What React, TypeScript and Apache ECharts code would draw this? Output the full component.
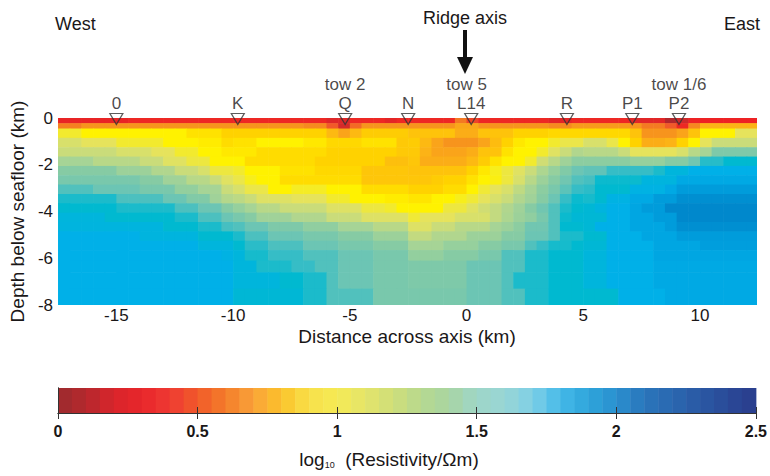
import React, { useEffect, useRef } from "react";
import * as echarts from "echarts";

// ---- Model grid (km) ----
const colStartKm = -17.5;
const colWidthKm = 0.5;
const depthEdges = [0, 0.22, 0.45, 0.85, 1.25, 1.65, 2.05, 2.45, 2.85, 3.25, 3.65, 4.05, 4.45, 4.85, 5.25, 5.65, 6.1, 6.6, 7.3, 8.0];

// ---- log10 resistivity, one array per depth layer, 60 columns west -> east ----
const r00 = [0.28,0.28,0.28,0.28,0.28,0.28,0.32,0.32,0.32,0.32,0.32,0.32,0.32,0.32,0.32,0.32,0.32,0.32,0.32,0.32,0.32,0.32,0.32,0.24,0.24,0.32,0.32,0.32,0.26,0.32,0.32,0.32,0.32,0.32,0.6,0.42,0.32,0.32,0.32,0.32,0.32,0.32,0.26,0.26,0.32,0.32,0.32,0.32,0.32,0.25,0.25,0.25,0.08,0.18,0.3,0.3,0.3,0.3,0.3,0.3];
const r01 = [0.62,0.62,0.7,0.7,0.7,0.7,0.7,0.7,0.7,0.7,0.7,0.7,0.7,0.7,0.7,0.7,0.7,0.7,0.7,0.7,0.7,0.66,0.66,0.5,0.2,0.55,0.7,0.7,0.7,0.7,0.7,0.7,0.7,0.7,0.76,0.76,0.7,0.7,0.7,0.7,0.7,0.7,0.66,0.66,0.72,0.72,0.72,0.72,0.72,0.7,0.6,0.6,0.5,0.32,0.65,0.8,0.8,0.8,0.8,0.8];
const r02 = [1.05,1.05,1.0,1.0,1.0,1.0,1.0,1.0,1.0,1.0,1.0,0.95,0.95,0.95,0.9,0.9,0.9,0.9,0.9,0.9,0.9,0.9,0.9,0.82,0.75,0.82,0.88,0.88,0.88,0.88,0.85,0.85,0.85,0.85,0.78,0.78,0.85,0.85,0.85,0.9,0.9,0.9,0.92,0.92,0.92,0.92,0.92,0.92,0.92,0.85,0.7,0.7,0.7,0.75,0.85,1.0,1.0,1.0,1.1,1.1];
const r03 = [1.15,1.15,1.1,1.1,1.1,1.05,1.05,1.05,1.05,1.0,1.0,1.0,0.98,0.98,0.93,0.95,0.95,1.0,1.0,1.0,1.0,0.97,0.97,0.92,0.92,0.92,0.95,0.95,0.95,0.87,0.88,0.82,0.75,0.7,0.7,0.7,0.75,0.83,0.9,0.97,1.0,1.0,1.05,1.08,1.08,1.15,1.15,1.08,1.0,0.9,0.78,0.78,0.8,0.9,1.0,1.1,1.2,1.2,1.2,1.2];
const r04 = [1.2,1.2,1.2,1.2,1.2,1.15,1.15,1.15,1.1,1.1,1.05,1.05,1.0,1.0,0.97,0.97,0.97,0.93,0.93,0.93,0.93,0.93,0.93,0.9,0.9,0.9,0.9,0.9,0.9,0.87,0.87,0.8,0.75,0.75,0.75,0.78,0.85,0.85,0.95,1.0,1.0,1.05,1.12,1.2,1.27,1.25,1.25,1.25,1.2,1.1,1.1,1.1,1.1,1.15,1.25,1.3,1.43,1.43,1.43,1.43];
const r05 = [1.3,1.3,1.3,1.25,1.25,1.25,1.25,1.2,1.2,1.12,1.12,1.07,1.07,1.0,1.0,1.0,0.93,0.93,0.93,0.93,0.93,0.93,0.9,0.9,0.9,0.9,0.9,0.9,0.84,0.84,0.86,0.78,0.78,0.78,0.78,0.82,0.88,0.95,1.0,1.0,1.05,1.18,1.25,1.32,1.38,1.38,1.38,1.38,1.38,1.35,1.35,1.35,1.4,1.4,1.48,1.63,1.63,1.7,1.7,1.7];
const r06 = [1.4,1.4,1.4,1.4,1.4,1.33,1.33,1.33,1.27,1.27,1.2,1.2,1.15,1.07,1.07,1.05,1.0,1.0,1.0,0.95,0.95,0.95,0.92,0.92,0.92,0.92,0.86,0.86,0.86,0.86,0.85,0.85,0.85,0.85,0.85,0.9,0.97,1.03,1.07,1.12,1.2,1.28,1.35,1.42,1.5,1.52,1.52,1.6,1.6,1.6,1.6,1.65,1.75,1.75,1.8,1.8,1.8,1.8,1.8,1.8];
const r07 = [1.45,1.45,1.45,1.45,1.45,1.45,1.45,1.4,1.4,1.32,1.32,1.25,1.25,1.2,1.12,1.08,1.03,1.0,1.0,0.93,0.93,0.93,0.93,0.93,0.93,0.93,0.86,0.86,0.86,0.86,0.86,0.86,0.88,0.9,0.9,0.95,1.0,1.02,1.07,1.15,1.25,1.33,1.4,1.48,1.55,1.57,1.68,1.68,1.68,1.68,1.76,1.76,1.76,1.85,1.85,1.85,1.85,1.85,1.85,1.85];
const r08 = [1.55,1.55,1.55,1.5,1.5,1.5,1.5,1.45,1.45,1.45,1.36,1.36,1.3,1.3,1.2,1.15,1.08,1.08,1.0,1.0,1.04,1.04,1.04,1.0,1.0,1.0,0.93,0.93,0.93,0.93,0.9,0.9,0.9,0.93,0.93,1.0,1.06,1.1,1.15,1.23,1.3,1.38,1.45,1.53,1.6,1.62,1.7,1.7,1.7,1.78,1.78,1.78,1.85,1.95,1.95,1.95,1.95,1.95,1.95,1.95];
const r09 = [1.65,1.65,1.65,1.65,1.65,1.56,1.56,1.56,1.56,1.5,1.5,1.42,1.42,1.32,1.26,1.24,1.2,1.13,1.13,1.13,1.1,1.1,1.1,1.05,1.05,1.0,1.0,1.0,0.98,0.98,0.96,0.96,1.0,1.0,1.03,1.06,1.1,1.15,1.2,1.27,1.32,1.4,1.5,1.6,1.68,1.66,1.7,1.78,1.78,1.85,1.85,1.95,1.95,2.05,2.05,2.05,2.05,2.05,2.05,2.05];
const r10 = [1.7,1.7,1.7,1.7,1.7,1.65,1.65,1.65,1.65,1.65,1.56,1.56,1.5,1.5,1.4,1.35,1.3,1.25,1.25,1.2,1.2,1.2,1.2,1.13,1.13,1.13,1.07,1.07,1.05,1.0,1.0,1.0,1.0,1.07,1.07,1.12,1.18,1.22,1.27,1.32,1.4,1.48,1.55,1.65,1.7,1.72,1.76,1.8,1.8,1.87,1.95,1.95,2.1,2.1,2.1,2.1,2.1,2.1,2.1,2.1];
const r11 = [1.75,1.75,1.75,1.75,1.7,1.7,1.7,1.7,1.7,1.7,1.65,1.65,1.56,1.56,1.5,1.45,1.4,1.32,1.32,1.32,1.27,1.27,1.27,1.2,1.2,1.2,1.13,1.13,1.13,1.13,1.06,1.1,1.1,1.1,1.15,1.15,1.15,1.22,1.28,1.33,1.37,1.45,1.55,1.68,1.72,1.72,1.72,1.8,1.8,1.87,1.87,1.95,1.95,2.1,2.1,2.1,2.1,2.1,2.1,2.1];
const r12 = [1.76,1.76,1.76,1.76,1.76,1.76,1.76,1.76,1.76,1.7,1.7,1.7,1.65,1.65,1.57,1.55,1.5,1.5,1.43,1.43,1.43,1.37,1.37,1.37,1.3,1.3,1.3,1.25,1.25,1.25,1.13,1.13,1.2,1.2,1.25,1.25,1.25,1.3,1.33,1.38,1.48,1.48,1.55,1.7,1.7,1.72,1.8,1.8,1.8,1.87,1.87,1.87,1.95,2.05,2.05,2.05,2.05,2.05,2.05,2.05];
const r13 = [1.8,1.8,1.8,1.8,1.8,1.8,1.8,1.76,1.76,1.76,1.76,1.76,1.7,1.7,1.7,1.65,1.56,1.56,1.5,1.5,1.5,1.45,1.45,1.45,1.4,1.4,1.4,1.33,1.33,1.33,1.22,1.22,1.27,1.27,1.27,1.33,1.33,1.33,1.4,1.4,1.5,1.5,1.55,1.65,1.65,1.7,1.7,1.8,1.8,1.8,1.87,1.87,1.87,1.95,1.95,1.95,1.95,1.95,1.95,1.95];
const r14 = [1.8,1.8,1.8,1.8,1.8,1.8,1.8,1.8,1.8,1.8,1.8,1.8,1.75,1.75,1.75,1.7,1.62,1.62,1.56,1.56,1.56,1.5,1.5,1.5,1.45,1.45,1.45,1.4,1.4,1.4,1.3,1.3,1.3,1.35,1.35,1.35,1.4,1.4,1.45,1.45,1.55,1.6,1.66,1.66,1.7,1.72,1.72,1.8,1.8,1.8,1.8,1.87,1.87,1.87,1.87,1.93,1.93,1.93,1.93,1.93];
const r15 = [1.8,1.8,1.8,1.8,1.8,1.8,1.8,1.8,1.8,1.8,1.8,1.8,1.8,1.8,1.78,1.75,1.66,1.66,1.6,1.6,1.6,1.55,1.55,1.55,1.5,1.5,1.5,1.45,1.45,1.45,1.36,1.36,1.36,1.4,1.4,1.4,1.45,1.45,1.55,1.55,1.65,1.65,1.7,1.7,1.7,1.75,1.75,1.8,1.8,1.8,1.8,1.87,1.87,1.87,1.87,1.87,1.87,1.87,1.87,1.87];
const r16 = [1.8,1.8,1.8,1.8,1.8,1.8,1.8,1.8,1.8,1.8,1.8,1.8,1.8,1.8,1.8,1.75,1.75,1.65,1.65,1.65,1.6,1.6,1.55,1.55,1.5,1.5,1.5,1.45,1.45,1.45,1.43,1.43,1.43,1.43,1.43,1.5,1.5,1.5,1.55,1.55,1.65,1.65,1.7,1.7,1.7,1.75,1.75,1.8,1.8,1.8,1.8,1.85,1.85,1.85,1.85,1.85,1.85,1.85,1.85,1.85];
const r17 = [1.8,1.8,1.8,1.8,1.8,1.8,1.8,1.8,1.8,1.8,1.8,1.8,1.8,1.8,1.8,1.75,1.75,1.75,1.75,1.7,1.7,1.65,1.65,1.55,1.5,1.5,1.5,1.45,1.45,1.45,1.43,1.43,1.43,1.43,1.43,1.5,1.5,1.5,1.55,1.65,1.65,1.65,1.7,1.7,1.7,1.75,1.75,1.8,1.8,1.8,1.8,1.85,1.85,1.85,1.85,1.85,1.85,1.85,1.85,1.85];
const r18 = [1.8,1.8,1.8,1.8,1.8,1.8,1.8,1.8,1.8,1.8,1.8,1.8,1.8,1.8,1.8,1.72,1.72,1.72,1.72,1.72,1.72,1.65,1.65,1.55,1.55,1.55,1.55,1.45,1.45,1.45,1.45,1.45,1.45,1.45,1.45,1.5,1.5,1.5,1.55,1.55,1.65,1.65,1.7,1.7,1.7,1.7,1.7,1.7,1.8,1.8,1.8,1.8,1.85,1.85,1.85,1.85,1.85,1.85,1.85,1.85];
const logRho = [r00, r01, r02, r03, r04, r05, r06, r07, r08, r09, r10, r11, r12, r13, r14, r15, r16, r17, r18];

// ---- Receivers / tows ----
const stationNames = ["0", "K", "Q", "N", "L14", "R", "P1", "P2"];
const stationX = [-15, -9.8, -5.2, -2.5, 0.2, 4.3, 7.1, 9.1];
const towNames = ["tow 2", "tow 5", "tow 1/6"];
const towX = [-5.2, 0, 9.1];

// ---- Axes ----
const xTicks = [-15, -10, -5, 0, 5, 10];
const colorbarMin = 0;
const colorbarMax = 2.5;
const colorbarStep = 0.05;

// ---- Colour maps ----
const plotPalette = [
  "#9e2a2e", "#b8262b", "#d42a2a", "#ed2224", "#ef3e26", "#f15a29", "#f47a22", "#f7941d", "#fcb316", "#ffd200",
  "#fff200", "#e6e35c", "#cadc7a", "#a6d496", "#86cba4", "#6cc5b4", "#36bdc6", "#00b9d0", "#00b0e8", "#00a2e0",
  "#0096d6", "#0088cc", "#007cc0", "#0070b4", "#0064a8", "#00589c",
];
const colorbarPalette = [
  "#9b2a2e", "#b5282d", "#d9252b", "#e8262b", "#ee3a33", "#f15a2a", "#f47c2a", "#f9a33a", "#fbc22a", "#f8e04a",
  "#f5ea55", "#e4e46a", "#cfde7a", "#b7d98f", "#a8d5a2", "#9fd6c8", "#98d6d5", "#7ecfe6", "#45b9e8", "#2ea5db",
  "#2a8fcf", "#2a75bb", "#2a68b0", "#2a58a4", "#2a4a98", "#2a3c8c",
];

const FONT = "'Liberation Sans', Arial, sans-serif";
const TEXT = "#1a1718";

export default function App() {
  const ref = useRef<HTMLDivElement>(null);

  useEffect(() => {
    if (!ref.current) return;
    const chart = echarts.init(ref.current, undefined, { renderer: "svg" });

    const cells: number[][] = [];
    logRho.forEach((row, j) => {
      row.forEach((v, i) => {
        const x0 = colStartKm + i * colWidthKm;
        cells.push([x0, x0 + colWidthKm, -depthEdges[j], -depthEdges[j + 1], v]);
      });
    });

    const bins: number[][] = [];
    const nBins = Math.round((colorbarMax - colorbarMin) / colorbarStep);
    for (let i = 0; i < nBins; i++) {
      const lo = colorbarMin + i * colorbarStep;
      bins.push([lo, lo + colorbarStep, lo + colorbarStep / 2]);
    }

    const option: any = {
      animation: false,
      backgroundColor: "#ffffff",
      textStyle: { fontFamily: FONT, color: TEXT },
      grid: [
        { left: 58, top: 118, width: 698, height: 187 },
        { left: 58, top: 388, width: 699, height: 25 },
      ],
      xAxis: [
        {
          type: "value", gridIndex: 0, min: -17.5, max: 12.4,
          axisLine: { show: false }, axisTick: { show: false }, splitLine: { show: false },
          axisLabel: { customValues: xTicks, fontSize: 17, lineHeight: 17, color: TEXT, fontFamily: FONT, margin: 1.5 },
          name: "Distance across axis (km)", nameLocation: "middle", nameGap: 21.5,
          nameTextStyle: { fontSize: 19, lineHeight: 19, color: TEXT, fontFamily: FONT },
        },
        {
          type: "value", gridIndex: 1, min: colorbarMin, max: colorbarMax, interval: 0.5, position: "bottom", z: 10,
          axisLine: { show: true, lineStyle: { color: "#333", width: 1 } },
          axisTick: { show: true, inside: true, length: 6, lineStyle: { color: "#333" } },
          splitLine: { show: false },
          axisLabel: { fontSize: 16, fontWeight: "bold", color: TEXT, fontFamily: FONT, margin: 10 },
        },
        {
          type: "value", gridIndex: 1, min: colorbarMin, max: colorbarMax, interval: 0.5, position: "top", z: 10,
          axisLine: { show: true, lineStyle: { color: "#333", width: 1 } },
          axisTick: { show: true, inside: true, length: 6, lineStyle: { color: "#333" } },
          splitLine: { show: false }, axisLabel: { show: false },
        },
      ],
      yAxis: [
        {
          type: "value", gridIndex: 0, min: -8, max: 0, interval: 2,
          axisLine: { show: false }, axisTick: { show: false }, splitLine: { show: false },
          axisLabel: { fontSize: 17, color: TEXT, fontFamily: FONT, margin: 5 },
          name: "Depth below seafloor (km)", nameLocation: "middle", nameGap: 30, nameRotate: 90,
          nameTextStyle: { fontSize: 19, color: TEXT, fontFamily: FONT },
        },
        {
          type: "value", gridIndex: 1, min: 0, max: 1, position: "left", z: 10,
          axisLine: { show: true, lineStyle: { color: "#333", width: 1 } },
          axisTick: { show: false }, axisLabel: { show: false }, splitLine: { show: false },
        },
        {
          type: "value", gridIndex: 1, min: 0, max: 1, position: "right", z: 10,
          axisLine: { show: true, lineStyle: { color: "#333", width: 1 } },
          axisTick: { show: false }, axisLabel: { show: false }, splitLine: { show: false },
        },
      ],
      visualMap: [
        { type: "continuous", show: false, seriesIndex: 0, dimension: 4, min: 0, max: 2.5, inRange: { color: plotPalette } },
        { type: "continuous", show: false, seriesIndex: 3, dimension: 2, min: 0, max: 2.5, inRange: { color: colorbarPalette } },
      ],
      series: [
        {
          type: "custom", xAxisIndex: 0, yAxisIndex: 0, clip: true,
          encode: { x: [0, 1], y: [2, 3] },
          data: cells,
          renderItem: (_p: any, api: any) => {
            const a = api.coord([api.value(0), api.value(2)]);
            const b = api.coord([api.value(1), api.value(3)]);
            return {
              type: "rect",
              shape: { x: a[0], y: a[1], width: b[0] - a[0] + 0.6, height: b[1] - a[1] + 0.6 },
              style: { fill: api.visual("color") },
            };
          },
        },
        {
          type: "scatter", xAxisIndex: 0, yAxisIndex: 0, clip: false, z: 5,
          symbol: "triangle", symbolRotate: 180, symbolSize: [13, 11], symbolOffset: [0, 1],
          itemStyle: { color: "rgba(255,255,255,0)", borderColor: "#333", borderWidth: 1.2 },
          label: { show: true, position: "top", distance: 1, formatter: "{b}", fontSize: 17, lineHeight: 17, color: TEXT, fontFamily: FONT },
          data: stationX.map((x, i) => ({ name: stationNames[i], value: [x, 0] })),
        },
        {
          type: "scatter", xAxisIndex: 0, yAxisIndex: 0, clip: false, z: 5,
          symbol: "circle", symbolSize: 1, itemStyle: { color: "rgba(0,0,0,0)" },
          label: { show: true, position: "top", distance: 25, formatter: "{b}", fontSize: 17, lineHeight: 17, color: TEXT, fontFamily: FONT },
          data: towX.map((x, i) => ({ name: towNames[i], value: [x, 0] })),
        },
        {
          type: "custom", xAxisIndex: 1, yAxisIndex: 1,
          encode: { x: [0, 1] },
          data: bins,
          renderItem: (_p: any, api: any) => {
            const a = api.coord([api.value(0), 1]);
            const b = api.coord([api.value(1), 0]);
            return {
              type: "rect",
              shape: { x: a[0], y: a[1], width: b[0] - a[0] + 0.5, height: b[1] - a[1] },
              style: { fill: api.visual("color") },
            };
          },
        },
      ],
      graphic: [
        { type: "text", left: 55, top: 15, style: { text: "West", fontSize: 18, fill: TEXT, fontFamily: FONT } },
        { type: "text", right: 10, top: 15, style: { text: "East", fontSize: 18, fill: TEXT, fontFamily: FONT } },
        { type: "text", x: 465, y: 18, style: { text: "Ridge axis", fontSize: 18, fill: TEXT, fontFamily: FONT, align: "center", verticalAlign: "middle" } },
        { type: "line", shape: { x1: 465, y1: 30, x2: 465, y2: 60 }, style: { stroke: "#111", lineWidth: 4 } },
        { type: "polygon", shape: { points: [[457, 57], [473, 57], [465, 74]] }, style: { fill: "#111" } },
        {
          type: "text", x: 389, y: 459,
          style: {
            text: "{a|log}{s|10}{a|  (Resistivity/Ωm)}",
            align: "center", verticalAlign: "middle",
            rich: {
              a: { fontSize: 19, fill: TEXT, fontFamily: FONT },
              s: { fontSize: 9, fill: TEXT, fontFamily: FONT, verticalAlign: "bottom", padding: [12, 0, 0, 0] },
            },
          },
        },
      ],
    };

    chart.setOption(option);
    return () => chart.dispose();
  }, []);

  return <div ref={ref} style={{ position: "fixed", left: 0, top: 0, width: 770, height: 476 }} />;
}
